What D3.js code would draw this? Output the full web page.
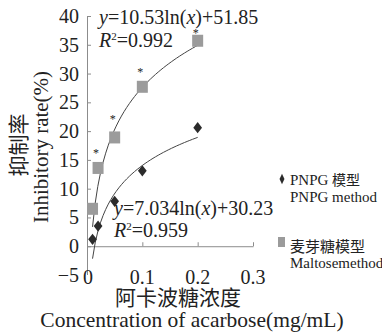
<!DOCTYPE html>
<html>
<head>
<meta charset="utf-8">
<script src="https://cdn.jsdelivr.net/npm/d3@7"></script>
<style>
  body { margin: 0; background: #fff; }
  text { font-family: "Liberation Serif", "Times New Roman", serif; fill: #222; }
  .cjk { font-family: "Noto Sans CJK SC", sans-serif; }
</style>
</head>
<body>
<svg id="chart" width="382" height="335"></svg>
<script>
var concentration = [0.01, 0.02, 0.05, 0.1, 0.2];
var pnpg = [1.2, 3.5, 7.8, 13.1, 20.6];
var maltose = [6.5, 13.6, 18.9, 27.7, 35.7];
// height of the significance star above each maltose point (null = none)
var maltoseStar = [null, 16.5, 22.5, 30.7, 37.4];
var yTicks = [-5, 0, 5, 10, 15, 20, 25, 30, 35, 40];
var xTicks = [0, 0.1, 0.2, 0.3];

/* log trendlines from the equations printed on the chart */
var fitMaltose = { a: 10.53, b: 51.85 };
var fitPnpg = { a: 7.034, b: 30.23 };

var svg = d3.select('#chart');

var xScale = d3.scaleLinear().domain([0, 0.3]).range([87, 253]);
var yScale = d3.scaleLinear().domain([-5, 40]).range([275, 16]);

var lineColor = '#8c8c8c';

/* axes */
var yAxis = d3.axisRight(yScale).tickValues(yTicks.slice(1)).tickSize(4).tickFormat('');
svg.append('g')
  .attr('transform', 'translate(' + xScale(0) + ',0)')
  .call(yAxis)
  .call(function (g) {
    g.select('.domain').attr('stroke', lineColor).attr('d', 'M0.5,' + yScale(40) + 'V' + yScale(-5));
    g.selectAll('.tick line').attr('stroke', lineColor);
  });

var xAxis = d3.axisTop(xScale).tickValues([0.1, 0.2, 0.3]).tickSize(4).tickFormat('');
svg.append('g')
  .attr('transform', 'translate(0,' + yScale(0) + ')')
  .call(xAxis)
  .call(function (g) {
    g.select('.domain').attr('stroke', lineColor).attr('d', 'M' + xScale(0) + ',0.5H' + (xScale(0.3) + 0.5));
    g.selectAll('.tick line').attr('stroke', lineColor);
  });

/* tick labels */
svg.append('g').selectAll('text')
  .data(yTicks)
  .join('text')
  .attr('x', 79)
  .attr('y', function (d) { return yScale(d) + 7; })
  .attr('text-anchor', 'end')
  .style('font-size', '20px')
  .text(function (d) { return d < 0 ? '\u2212' + Math.abs(d) : d; });

svg.append('g').selectAll('text')
  .data(xTicks)
  .join('text')
  .attr('x', function (d) { return xScale(d) + (d === 0 ? 1 : 0); })
  .attr('y', 284)
  .attr('text-anchor', 'middle')
  .style('font-size', '20px')
  .text(function (d) { return d === 0 ? '0' : d; });

/* trendlines */
function fitLine(fit) {
  var xs = d3.range(0, 41).map(function (i) { return 0.01 + i * (0.19 / 40); });
  return d3.line()
    .x(function (x) { return xScale(x); })
    .y(function (x) { return yScale(fit.a * Math.log(x) + fit.b); })(xs);
}

svg.append('path').attr('d', fitLine(fitMaltose))
  .attr('fill', 'none').attr('stroke', '#444').attr('stroke-width', 1);
svg.append('path').attr('d', fitLine(fitPnpg))
  .attr('fill', 'none').attr('stroke', '#444').attr('stroke-width', 1);

/* points */
var diamond = d3.symbol().type(d3.symbolDiamond).size(50);
svg.append('g').selectAll('path')
  .data(concentration)
  .join('path')
  .attr('d', diamond)
  .attr('transform', function (d, i) {
    return 'translate(' + xScale(d) + ',' + yScale(pnpg[i]) + ') scale(1.15,0.85)';
  })
  .attr('fill', '#2b2b2b');

svg.append('g').selectAll('rect')
  .data(concentration)
  .join('rect')
  .attr('x', function (d) { return xScale(d) - 5.5; })
  .attr('y', function (d, i) { return yScale(maltose[i]) - 6; })
  .attr('width', 11)
  .attr('height', 12)
  .attr('fill', '#9b9b9b');

var stars = concentration
  .map(function (d, i) { return { x: d, y: maltoseStar[i] }; })
  .filter(function (d) { return d.y !== null; });

svg.append('g').selectAll('text')
  .data(stars)
  .join('text')
  .attr('x', function (d) { return xScale(d.x) - 2; })
  .attr('y', function (d) { return yScale(d.y) + 6; })
  .attr('text-anchor', 'middle')
  .style('font-size', '12px')
  .text('*');

/* equations */
function equation(x, y, a, b) {
  var t = svg.append('text').attr('x', x).attr('y', y).style('font-size', '20px');
  t.append('tspan').style('font-style', 'italic').text('y');
  t.append('tspan').text('=' + a + 'ln(');
  t.append('tspan').style('font-style', 'italic').text('x');
  t.append('tspan').text(')+' + b);
}
function rsq(x, y, r) {
  var t = svg.append('text').attr('x', x).attr('y', y).style('font-size', '20px');
  t.append('tspan').style('font-style', 'italic').text('R');
  t.append('tspan').attr('dy', -7).style('font-size', '11px').text('2');
  t.append('tspan').attr('dy', 7).text('=' + r);
}
equation(99, 24, '10.53', '51.85');
rsq(99, 47, '0.992');
equation(114, 215, '7.034', '30.23');
rsq(114, 237, '0.959');

/* axis titles */
svg.append('text')
  .attr('class', 'cjk')
  .attr('transform', 'translate(26,145) rotate(-90)')
  .attr('text-anchor', 'middle')
  .style('font-size', '21px')
  .text('抑制率');
svg.append('text')
  .attr('transform', 'translate(48,147) rotate(-90)')
  .attr('text-anchor', 'middle')
  .style('font-size', '21px')
  .text('Inhibitory rate(%)');

svg.append('text')
  .attr('class', 'cjk')
  .attr('x', 178).attr('y', 305)
  .attr('text-anchor', 'middle')
  .style('font-size', '21px')
  .text('阿卡波糖浓度');
svg.append('text')
  .attr('x', 192).attr('y', 327)
  .attr('text-anchor', 'middle')
  .style('font-size', '21.5px')
  .text('Concentration of acarbose(mg/mL)');

/* legend */
svg.append('path')
  .attr('d', d3.symbol().type(d3.symbolDiamond).size(26))
  .attr('transform', 'translate(282,179) scale(0.9,1.1)')
  .attr('fill', '#2b2b2b');
svg.append('text').attr('x', 290).attr('y', 185).style('font-size', '15px')
  .call(function (t) {
    t.append('tspan').text('PNPG ');
    t.append('tspan').attr('class', 'cjk').style('font-size', '14px').text('模型');
  });
svg.append('text').attr('x', 290).attr('y', 202).style('font-size', '15px').text('PNPG method');

svg.append('rect').attr('x', 278).attr('y', 237).attr('width', 7).attr('height', 10).attr('fill', '#9b9b9b');
svg.append('text').attr('class', 'cjk').attr('x', 290).attr('y', 252).style('font-size', '15px').text('麦芽糖模型');
svg.append('text').attr('x', 290).attr('y', 268).style('font-size', '15px').text('Maltosemethod');
</script>
</body>
</html>
